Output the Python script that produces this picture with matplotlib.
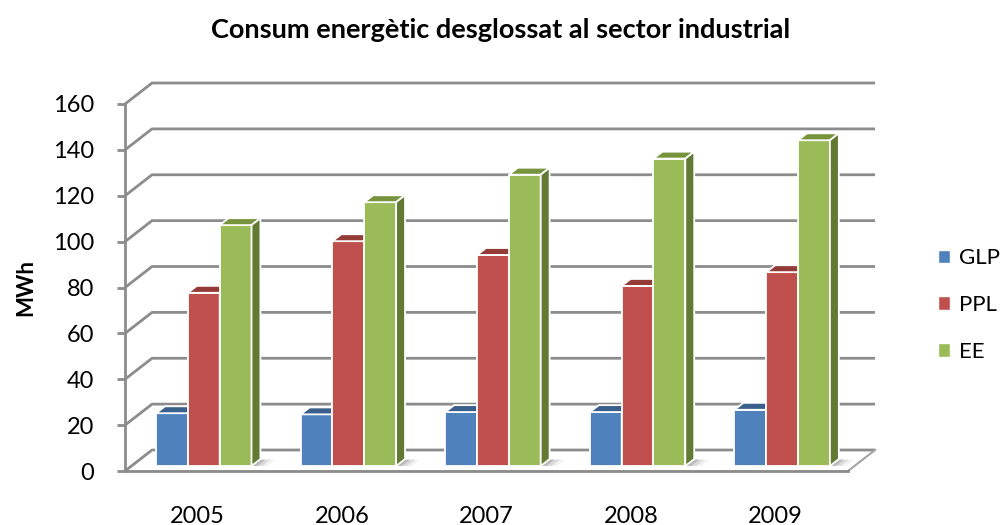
"""
Consum energètic desglossat al sector industrial (3D column look)
"""

import matplotlib.pyplot as plt
from matplotlib.patches import Polygon, Patch

years = ['2005', '2006', '2007', '2008', '2009']
series = ['GLP', 'PPL', 'EE']
glp = [23, 22.5, 23.5, 23.5, 24.5]
ppl = [75.5, 98, 92, 78.5, 84.5]
ee = [105, 115, 127, 134, 142]
values = {'GLP': glp, 'PPL': ppl, 'EE': ee}
yticks = [0, 20, 40, 60, 80, 100, 120, 140, 160]

front_col = {'GLP': '#4F81BD', 'PPL': '#C0504D', 'EE': '#9BBB59'}
top_col = {'GLP': '#3B5F8D', 'PPL': '#943B37', 'EE': '#77933C'}
side_col = {'GLP': '#2F4B70', 'PPL': '#7A302D', 'EE': '#637A35'}
grid_col = '#8C8C8C'

# depth of the 3d box (data units) and the slab where the bars sit
DX, DY = 0.187, 9.15
F0, F1 = 0.24, 0.57
W = 0.22

plt.rcParams['font.family'] = ['Lato', 'DejaVu Sans']

fig = plt.figure(figsize=(10.01, 5.25), dpi=100)
ax = fig.add_axes([125 / 1001, 54 / 525, 723 / 1001, 367 / 525])
n = len(years)
ax.set_xlim(0, n)
ax.set_ylim(0, 160)

# floor
floor = Polygon([(0, 0), (n, 0), (n + DX, DY), (DX, DY)], closed=True,
                facecolor='white', edgecolor='#C8C8C8', lw=1.2,
                zorder=0.5, clip_on=False)
ax.add_patch(floor)

# side wall diagonals + back wall gridlines
for v in yticks:
    ax.plot([0, DX, n + DX], [v, v + DY, v + DY], color=grid_col, lw=2,
            zorder=1, clip_on=False, solid_capstyle='butt')
ax.plot([n, n + DX], [0, DY], color='#A6A6A6', lw=1.5, zorder=1,
        clip_on=False)

# soft shadows on the floor
for i in range(n):
    x0 = i + 0.5 + 1.5 * W + F0 * DX
    for k, a in enumerate([0.35, 0.2, 0.1]):
        ln = 0.04 + 0.035 * k
        shadow = Polygon([(x0, F0 * DY), (x0 + ln, F0 * DY),
                          (x0 + ln + 0.3 * DX, F0 * DY + 0.3 * DY),
                          (x0 + 0.3 * DX, F0 * DY + 0.3 * DY)],
                         closed=True, facecolor='#808080', alpha=a,
                         lw=0, zorder=1.5, clip_on=False)
        ax.add_patch(shadow)

# bars
z = 3
for i in range(n):
    for k, s in enumerate(series):
        v = values[s][i]
        x = i + 0.5 - 1.5 * W + k * W + F0 * DX
        y0 = F0 * DY
        ax.bar(x, v, width=W, bottom=y0, align='edge', color=front_col[s],
               edgecolor='white', lw=1.3, zorder=z, clip_on=False)
        ddx, ddy = (F1 - F0) * DX, (F1 - F0) * DY
        topf = Polygon([(x, y0 + v), (x + W, y0 + v),
                        (x + W + ddx, y0 + v + ddy), (x + ddx, y0 + v + ddy)],
                       closed=True, facecolor=top_col[s], edgecolor='white',
                       lw=1.3, zorder=z, clip_on=False)
        sidef = Polygon([(x + W, y0), (x + W + ddx, y0 + ddy),
                         (x + W + ddx, y0 + v + ddy), (x + W, y0 + v)],
                        closed=True, facecolor=side_col[s], edgecolor='white',
                        lw=1.3, zorder=z, clip_on=False)
        ax.add_patch(topf)
        ax.add_patch(sidef)
        z += 1

# axes styling
for sp in ['top', 'right']:
    ax.spines[sp].set_visible(False)
ax.spines['left'].set_color(grid_col)
ax.spines['left'].set_linewidth(2)
ax.spines['bottom'].set_color(grid_col)
ax.spines['bottom'].set_linewidth(2)
ax.set_yticks(yticks)
ax.tick_params(axis='y', direction='out', length=6, width=2, color=grid_col,
               labelsize=17, pad=16)
ax.set_xticks([i + 0.5 for i in range(n)])
ax.set_xticklabels(years)
ax.tick_params(axis='x', length=0, labelsize=17, pad=25)

ax.set_ylabel('MWh', fontsize=16, fontweight='bold', labelpad=12)
fig.text(0.5, 0.943, 'Consum energètic desglossat al sector industrial',
         ha='center', va='center', fontsize=19.5, fontweight='bold')

handles = [Patch(facecolor=front_col[s], edgecolor='white', label=s)
           for s in series]
fig.legend(handles=handles, loc='center left',
           bbox_to_anchor=(938 / 1001, 1 - 305 / 525), frameon=False,
           fontsize=16, handlelength=0.55, handleheight=0.55,
           handletextpad=0.4, labelspacing=1.2, borderpad=0,
           borderaxespad=0)

fig.savefig('out.png', dpi=100)
